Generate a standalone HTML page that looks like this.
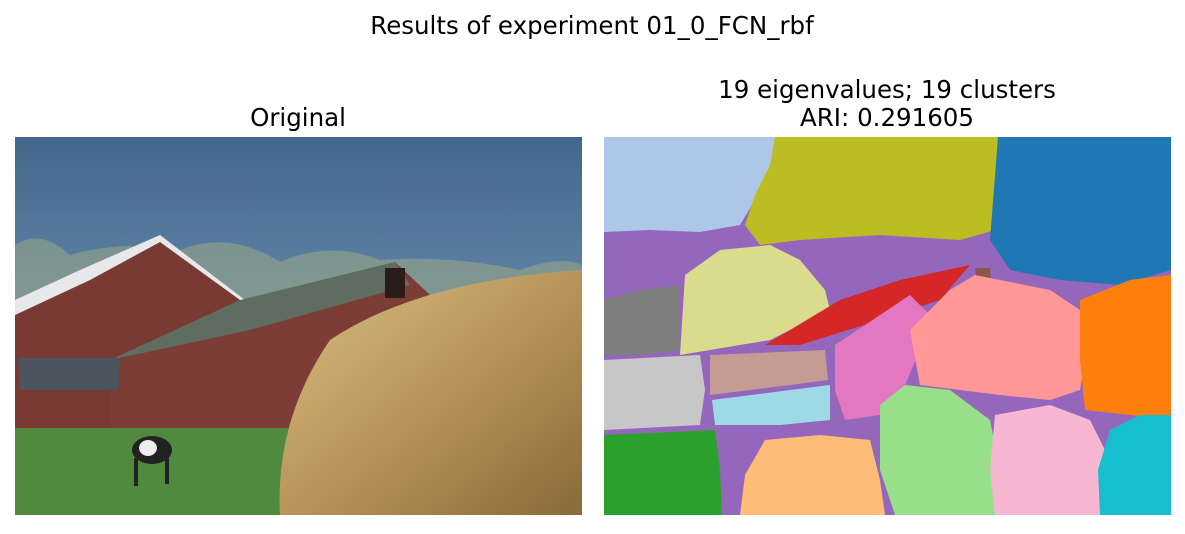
<!DOCTYPE html>
<html><head><meta charset="utf-8"><style>
html,body{margin:0;padding:0;background:#fff}
body{width:1185px;height:530px;overflow:hidden;font-family:"DejaVu Sans","Liberation Sans",sans-serif}
</style></head><body>
<svg width="1185" height="530" viewBox="0 0 1185 530" xmlns="http://www.w3.org/2000/svg" font-family="DejaVu Sans, Liberation Sans, sans-serif">
<defs>
<linearGradient id="sky" x1="0" y1="0" x2="0" y2="1">
<stop offset="0" stop-color="#44678c"/><stop offset="0.6" stop-color="#6b8fb0"/><stop offset="1" stop-color="#8fb0c8"/>
</linearGradient>
<linearGradient id="hay" x1="0" y1="0" x2="1" y2="1">
<stop offset="0" stop-color="#d9bf85"/><stop offset="0.5" stop-color="#b8955a"/><stop offset="1" stop-color="#8a6a3a"/>
</linearGradient>
<clipPath id="lc"><rect x="15" y="137" width="567" height="378"/></clipPath>
<clipPath id="rc"><rect x="604" y="137" width="567" height="378"/></clipPath>
</defs>
<text x="592" y="34" text-anchor="middle" font-size="24.5" fill="#000">Results of experiment 01_0_FCN_rbf</text>
<text x="298" y="126" text-anchor="middle" font-size="24.5" fill="#000">Original</text>
<text x="887" y="98" text-anchor="middle" font-size="24.5" fill="#000">19 eigenvalues; 19 clusters</text>
<text x="887" y="126" text-anchor="middle" font-size="24.5" fill="#000">ARI: 0.291605</text>

<g clip-path="url(#lc)">
<rect x="15" y="137" width="567" height="378" fill="url(#sky)"/>
<path d="M15,245 Q40,228 70,255 Q120,240 180,250 Q230,230 280,262 Q330,240 380,260 Q450,255 520,270 Q560,255 582,265 L582,330 L15,330Z" fill="#9aa884" opacity="0.55"/>
<polygon points="15,300 80,270 160,235 245,300 15,330" fill="#e8e8ea"/>
<polygon points="15,315 90,280 160,242 240,300 245,430 15,430" fill="#7a3a34"/>
<polygon points="110,360 260,310 395,262 430,295 430,430 110,430" fill="#7c3d37"/>
<polygon points="110,360 240,300 395,262 410,285 250,330" fill="#5f6d60"/>
<rect x="385" y="268" width="20" height="30" fill="#2a1c18"/>
<polygon points="18,358 120,358 118,390 20,390" fill="#4a5560"/>
<rect x="15" y="428" width="300" height="90" fill="#4f8a3e"/>
<path d="M280,515 Q275,420 330,340 Q420,280 582,270 L582,515Z" fill="url(#hay)"/>
<ellipse cx="152" cy="450" rx="20" ry="14" fill="#222"/>
<ellipse cx="148" cy="448" rx="9" ry="8" fill="#eee"/>
<rect x="134" y="458" width="4" height="28" fill="#222"/>
<rect x="165" y="458" width="4" height="26" fill="#222"/>
</g>

<g clip-path="url(#rc)">
<rect x="604" y="137" width="567" height="378" fill="#9467bd"/>
<polygon fill="#aec7e8" points="604,137 775,137 770,170 755,200 740,225 700,232 650,230 604,232"/>
<polygon fill="#bcbd22" points="775,137 998,137 995,230 960,240 880,235 800,240 760,245 745,225 755,195 770,165"/>
<polygon fill="#1f77b4" points="998,137 1171,137 1171,270 1120,285 1060,280 1010,270 990,240"/>
<polygon fill="#7f7f7f" points="604,300 640,290 680,285 680,350 640,355 604,355"/>
<polygon fill="#dbdb8d" points="685,275 720,250 770,245 800,260 825,290 830,310 770,340 740,345 680,355"/>
<polygon fill="#d62728" points="765,345 840,300 900,280 970,265 940,300 880,320 800,345"/>
<polygon fill="#8c564b" points="975,268 990,268 992,298 978,298"/>
<polygon fill="#e377c2" points="835,345 880,315 910,295 935,320 920,350 905,385 880,415 845,420 835,390"/>
<polygon fill="#ff9896" points="910,330 950,290 975,275 1000,280 1050,290 1080,310 1085,360 1080,390 1050,400 1000,395 960,390 920,385"/>
<polygon fill="#ff7f0e" points="1080,300 1130,280 1171,275 1171,420 1130,415 1085,410 1080,360"/>
<polygon fill="#c7c7c7" points="604,360 700,355 705,390 700,425 604,430"/>
<polygon fill="#c49c94" points="710,355 825,350 828,380 790,385 710,395"/>
<polygon fill="#9edae5" points="712,400 790,390 830,385 830,420 780,425 715,425"/>
<polygon fill="#2ca02c" points="604,435 715,430 720,470 722,515 604,515"/>
<polygon fill="#ffbb78" points="765,440 820,435 870,440 880,480 885,515 740,515 745,475"/>
<polygon fill="#98df8a" points="880,405 905,385 950,390 990,420 1000,470 995,515 895,515 880,470"/>
<polygon fill="#f7b6d2" points="995,415 1050,405 1090,420 1110,460 1105,515 995,515 990,470"/>
<polygon fill="#17becf" points="1110,430 1140,415 1171,415 1171,515 1100,515 1098,470"/>
</g>
</svg>
</body></html>
